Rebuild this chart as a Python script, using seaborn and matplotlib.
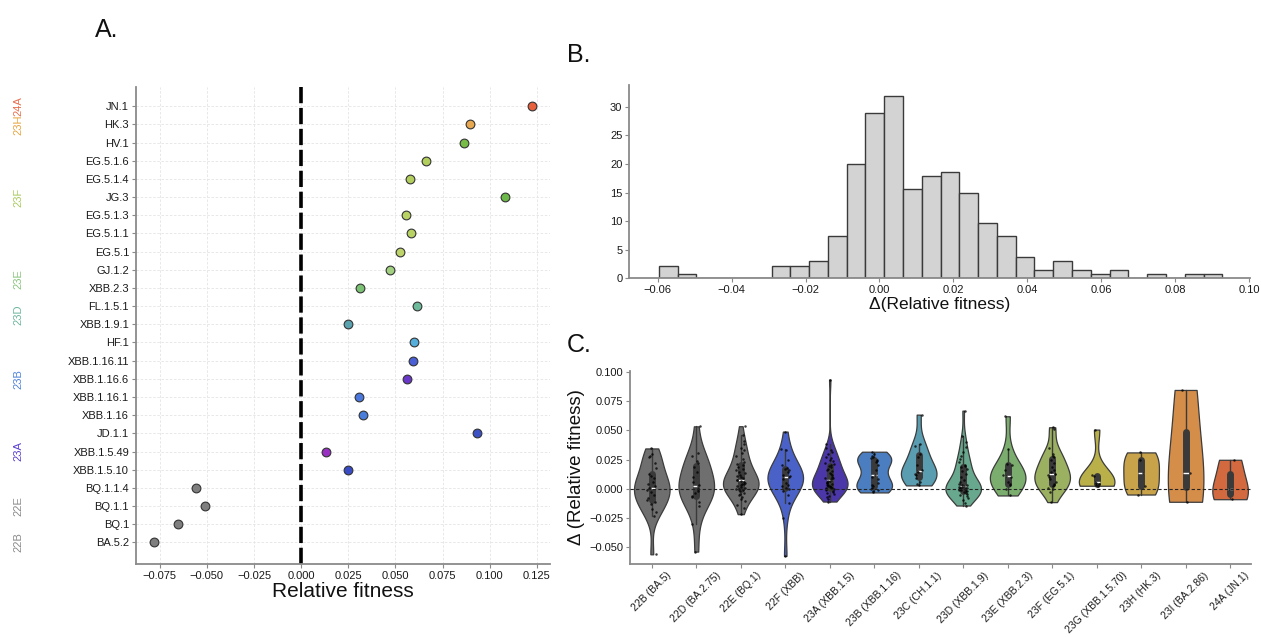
import numpy as np
import pandas as pd
import matplotlib
matplotlib.use("Agg")
import matplotlib.pyplot as plt
import seaborn as sns

# ---------------- Data ----------------
# Panel A
lineages = ["JN.1", "HK.3", "HV.1", "EG.5.1.6", "EG.5.1.4", "JG.3", "EG.5.1.3", "EG.5.1.1",
            "EG.5.1", "GJ.1.2", "XBB.2.3", "FL.1.5.1", "XBB.1.9.1", "HF.1", "XBB.1.16.11",
            "XBB.1.16.6", "XBB.1.16.1", "XBB.1.16", "JD.1.1", "XBB.1.5.49", "XBB.1.5.10",
            "BQ.1.1.4", "BQ.1.1", "BQ.1", "BA.5.2"]
fitness = [0.1222, 0.0894, 0.0863, 0.0660, 0.0576, 0.1082, 0.0555, 0.0583,
           0.0523, 0.0473, 0.0314, 0.0612, 0.0248, 0.0598, 0.0592,
           0.0559, 0.0309, 0.0330, 0.0934, 0.0133, 0.0248,
           -0.0560, -0.0509, -0.0654, -0.0778]
lineage_clades = ["24A", "23H", "23F", "23F", "23F", "23F", "23F", "23F",
                  "23F", "23E", "23E", "23D", "23D", "23B", "23B",
                  "23B", "23B", "23B", "23A", "23A", "23A",
                  "22E", "22E", "22E", "22B"]
lineage_colors = ["#E8603C", "#E8A850", "#78BC48", "#B2CF5E", "#B2CF5E", "#6CB848", "#B8D264", "#B8D264",
                  "#BED46A", "#A0D080", "#7CC274", "#6EBB9C", "#5AA2B0", "#56AEDA", "#4A5FD6",
                  "#6A38C8", "#4A78DC", "#4A7EDC", "#3C52C4", "#9A2FC4", "#3A4BC6",
                  "#7F7F7F", "#7F7F7F", "#7F7F7F", "#7F7F7F"]
clade_label_names = ["24A", "23H", "23F", "23E", "23D", "23B", "23A", "22E", "22B"]
clade_label_colors = ["#E86F4E", "#E8A640", "#A9CB5E", "#89C57E", "#6DB6A0", "#4F84DB", "#5A3ED0", "#8A8A8A", "#8A8A8A"]

# Panel B (bin counts)
hist_counts = [3, 1, 0, 0, 0, 0, 3, 3, 4, 10, 27, 39, 43, 21, 24, 25, 20, 13, 10, 5,
               2, 4, 2, 1, 2, 0, 1, 0, 1, 1]
hist_lo, hist_hi = -0.0597, 0.0928

# Panel C
clades_c = ["22B (BA.5)", "22D (BA.2.75)", "22E (BQ.1)", "22F (XBB)", "23A (XBB.1.5)",
            "23B (XBB.1.16)", "23C (CH.1.1)", "23D (XBB.1.9)", "23E (XBB.2.3)", "23F (EG.5.1)",
            "23G (XBB.1.5.70)", "23H (HK.3)", "23I (BA.2.86)", "24A (JN.1)"]
violin_colors = ["#6F6F6F", "#6F6F6F", "#6F6F6F", "#4A62C8", "#4B37A8",
                 "#4A7EC0", "#5A9CB0", "#68A88E", "#7BAE6E", "#9BB060",
                 "#BAB04A", "#C9A34A", "#D58D4A", "#D3693F"]
d_22B = [0.0345, 0.030, 0.028, 0.027, 0.022, 0.018, 0.013, 0.011, 0.009, 0.006, 0.004, 0.002, 0.001,
         0.0005, -0.001, -0.003, -0.005, -0.008, -0.010, -0.011, -0.013, -0.017, -0.020, -0.023, -0.056]
d_22D = [0.0534, 0.031, 0.028, 0.024, 0.022, 0.019, 0.014, 0.010, 0.006, 0.003, 0.002, 0.000,
         -0.002, -0.004, -0.006, -0.007, -0.011, -0.015, -0.030, -0.0537]
d_22E = [0.0535, 0.0462, 0.0410, 0.0382, 0.0351, 0.0332, 0.0305, 0.0281, 0.0256, 0.0232, 0.0214,
         0.0203, 0.0188, 0.0171, 0.0158, 0.0143, 0.0131, 0.0118, 0.0106, 0.0097, 0.0088, 0.0079,
         0.0071, 0.0064, 0.0058, 0.0051, 0.0044, 0.0037, 0.0030, 0.0023, 0.0016, 0.0009, 0.0002,
         -0.0006, -0.0014, -0.0023, -0.0033, -0.0044, -0.0056, -0.0070, -0.0087, -0.0108, -0.0135,
         -0.0168, -0.0217]
d_22F = [0.0489, 0.034, 0.033, 0.025, 0.020, 0.018, 0.017, 0.016, 0.014, 0.012, 0.011, 0.0105,
         0.010, 0.008, 0.005, 0.003, 0.002, 0.001, 0.000, -0.002, -0.005, -0.012, -0.025, -0.0574]
d_23A = [0.0934, 0.0385, 0.0352, 0.0331, 0.0318, 0.0297, 0.0276, 0.0262, 0.0248, 0.0235, 0.0221,
         0.0214, 0.0203, 0.0192, 0.0185, 0.0171, 0.0162, 0.0150, 0.0139, 0.0128, 0.0117, 0.0104,
         0.0096, 0.0088, 0.0081, 0.0074, 0.0069, 0.0063, 0.0057, 0.0052, 0.0047, 0.0041, 0.0036,
         0.0031, 0.0027, 0.0022, 0.0018, 0.0013, 0.0009, 0.0004, 0.0000, -0.0006, -0.0012, -0.0019,
         -0.0027, -0.0035, -0.0046, -0.0058, -0.0071, -0.0089, -0.0109]
d_23B = [0.0317, 0.030, 0.028, 0.027, 0.026, 0.025, 0.024, 0.023, 0.020, 0.016, 0.012, 0.010,
         0.008, 0.005, 0.003, 0.002, 0.001, 0.000, -0.001, -0.002, -0.0031]
d_23C = [0.0634, 0.038, 0.037, 0.030, 0.027, 0.020, 0.016, 0.015, 0.014, 0.013, 0.012, 0.009,
         0.006, 0.004, 0.0029]
d_23D = [0.0668, 0.0452, 0.0398, 0.0355, 0.0312, 0.0281, 0.0254, 0.0228, 0.0207, 0.0192, 0.0183,
         0.0171, 0.0150, 0.0124, 0.0098, 0.0076, 0.0058, 0.0044, 0.0036, 0.0029, 0.0023, 0.0018,
         0.0014, 0.0010, 0.0006, 0.0002, -0.0002, -0.0006, -0.0010, -0.0014, -0.0018, -0.0023,
         -0.0029, -0.0036, -0.0044, -0.0053, -0.0064, -0.0078, -0.0095, -0.0118, -0.0143]
d_23E = [0.062, 0.034, 0.021, 0.020, 0.016, 0.012, 0.011, 0.010, 0.006, 0.004, 0.003, 0.000, -0.0057]
d_23F = [0.0526, 0.051, 0.035, 0.030, 0.028, 0.027, 0.025, 0.022, 0.019, 0.016, 0.014, 0.013,
         0.0129, 0.012, 0.010, 0.008, 0.006, 0.004, 0.003, 0.002, 0.001, 0.000, -0.003, -0.0114]
d_23G = [0.0506, 0.012, 0.011, 0.006, 0.005, 0.004, 0.003, 0.0026]
d_23H = [0.0311, 0.0245, 0.0134, 0.0020, -0.0049]
d_23I = [0.0845, 0.0134, -0.0111]
d_24A = [0.0248, 0.0, -0.0089]
deltas_c = [d_22B, d_22D, d_22E, d_22F, d_23A, d_23B, d_23C, d_23D, d_23E, d_23F,
            d_23G, d_23H, d_23I, d_24A]

# ---------------- Style ----------------
sns.set_theme(style="ticks")
plt.rcParams["font.family"] = ["Liberation Sans", "DejaVu Sans"]
plt.rcParams["axes.unicode_minus"] = True

W, H = 1261, 637
fig = plt.figure(figsize=(W / 100, H / 100), dpi=100)

def px_axes(l, t, r, b):
    return fig.add_axes([l / W, 1 - b / H, (r - l) / W, (b - t) / H])

spine_col = "#8a8a8a"

def style_axes(ax):
    sns.despine(ax=ax)
    for s in ["left", "bottom"]:
        ax.spines[s].set_color(spine_col)
        ax.spines[s].set_linewidth(1.3)
    ax.tick_params(axis="both", labelsize=8, length=3, width=0.8, color=spine_col,
                   labelcolor="#1a1a1a", pad=2)

# ---------------- Panel A ----------------
axA = px_axes(136, 87, 550, 564)
sns.stripplot(x=fitness, y=lineages, hue=lineages, palette=dict(zip(lineages, lineage_colors)),
              jitter=False, size=6.3, linewidth=0.8, edgecolor="#333333", legend=False,
              ax=axA, zorder=3)
axA.axvline(0, color="black", ls=(0, (4.5, 1.3)), lw=2.6, zorder=2)
axA.set_xlim(-0.0876, 0.132)
axA.set_ylim(len(lineages) - 1 + 1.19, -1.06)
axA.set_xticks([-0.075, -0.05, -0.025, 0.0, 0.025, 0.05, 0.075, 0.1, 0.125])
axA.grid(True, color="#e4e4e4", ls=(0, (3, 2)), lw=0.6)
axA.set_axisbelow(True)
style_axes(axA)
axA.set_xlabel("Relative fitness", fontsize=15, labelpad=1, color="#111111")
axA.set_ylabel("")

pos = {}
for i, c in enumerate(lineage_clades):
    pos.setdefault(c, []).append(i)
for name, col in zip(clade_label_names, clade_label_colors):
    axA.text((18 - 136) / 414, float(np.mean(pos[name])), name, rotation=90, ha="center",
             va="center", color=col, fontsize=8, transform=axA.get_yaxis_transform())

# ---------------- Panel B ----------------
axB = px_axes(629.3, 85, 1250, 278.3)
edges = np.linspace(hist_lo, hist_hi, len(hist_counts) + 1)
centers = (edges[:-1] + edges[1:]) / 2
hist_values = np.repeat(centers, hist_counts)
sns.histplot(x=hist_values, bins=len(hist_counts), binrange=(hist_lo, hist_hi), stat="density",
             color="#D3D3D3", edgecolor="#3a3a3a", linewidth=1.0, alpha=1, ax=axB)
axB.set_xlim(-0.0677, 0.1003)
axB.set_ylim(0, 33.8)
axB.set_xticks([-0.06, -0.04, -0.02, 0.0, 0.02, 0.04, 0.06, 0.08, 0.10])
axB.set_yticks([0, 5, 10, 15, 20, 25, 30])
style_axes(axB)
axB.set_ylabel("")
axB.set_xlabel("Δ(Relative fitness)", fontsize=12.5, labelpad=1, color="#111111")

# ---------------- Panel C ----------------
axC = px_axes(630, 371, 1251, 564)
rows = []
for c, vals in zip(clades_c, deltas_c):
    for v in vals:
        rows.append((c, v))
dfc = pd.DataFrame(rows, columns=["clade", "delta"])
sns.violinplot(data=dfc, x="clade", y="delta", hue="clade", order=clades_c, hue_order=clades_c,
               palette=dict(zip(clades_c, violin_colors)), saturation=1, cut=0,
               density_norm="width", width=0.8, inner="box", linewidth=0.9,
               linecolor="#3c3c3c", inner_kws=dict(box_width=5, whis_width=1, color="#3a3a3a"),
               legend=False, ax=axC)
sns.stripplot(data=dfc, x="clade", y="delta", order=clades_c, color="black", size=1.8,
              jitter=0.1, alpha=0.75, ax=axC)
axC.axhline(0, color="#222222", ls=(0, (3, 2)), lw=0.8, zorder=5)
axC.set_ylim(-0.0643, 0.1007)
axC.set_xlim(-0.49, 13.47)
axC.set_yticks([-0.05, -0.025, 0.0, 0.025, 0.05, 0.075, 0.1])
style_axes(axC)
axC.set_xlabel("")
axC.set_ylabel("Δ (Relative fitness)", fontsize=13.5, labelpad=3, color="#111111")
axC.tick_params(axis="x", pad=1.5, labelsize=7.5)
plt.setp(axC.get_xticklabels(), rotation=45, ha="center", va="top")

# ---------------- Panel letters ----------------
fig.text(95 / W, 1 - 30 / H, "A.", fontsize=18, ha="left", va="center", color="#111111")
fig.text(567 / W, 1 - 55 / H, "B.", fontsize=18, ha="left", va="center", color="#111111")
fig.text(567 / W, 1 - 345 / H, "C.", fontsize=18, ha="left", va="center", color="#111111")

fig.savefig("out.png", dpi=100)
